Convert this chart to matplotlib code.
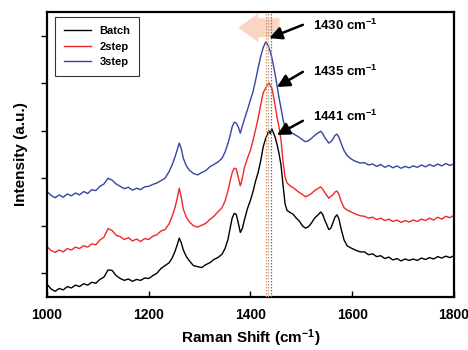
import matplotlib
matplotlib.use("Agg")
import matplotlib.pyplot as plt

plt.rcParams["font.family"] = ["Liberation Sans", "DejaVu Sans"]
plt.rcParams["font.weight"] = "bold"
plt.rcParams["mathtext.fontset"] = "custom"
plt.rcParams["mathtext.rm"] = "Liberation Sans:bold"
plt.rcParams["mathtext.bf"] = "Liberation Sans:bold"
plt.rcParams["mathtext.default"] = "bf"

# Raman shift (cm-1)
shift = [1000, 1008, 1016, 1024, 1032, 1040, 1048, 1056, 1064, 1072, 1080, 1088, 1096,
         1104, 1112, 1120, 1128, 1136, 1144, 1152, 1160, 1168, 1176, 1184, 1192, 1200,
         1208, 1216, 1224, 1232, 1240, 1246, 1252, 1256, 1260, 1264, 1268, 1274, 1280,
         1288, 1296, 1304, 1312, 1320, 1328, 1336, 1344, 1350, 1356, 1360, 1364, 1368,
         1372, 1376, 1380, 1384, 1388, 1394, 1400, 1405, 1410, 1415, 1420, 1425, 1430,
         1433, 1436, 1439, 1442, 1445, 1448, 1452, 1456, 1460, 1464, 1468, 1472, 1478,
         1484, 1490, 1496, 1502, 1508, 1514, 1520, 1526, 1532, 1538, 1542, 1546, 1550,
         1554, 1558, 1562, 1566, 1570, 1574, 1578, 1584, 1590, 1596, 1602, 1608, 1616,
         1624, 1632, 1640, 1648, 1656, 1664, 1672, 1680, 1688, 1696, 1704, 1712, 1720,
         1728, 1736, 1744, 1752, 1760, 1768, 1776, 1784, 1792, 1800]

batch = [0.27, 0.17, 0.12, 0.18, 0.15, 0.22, 0.19, 0.25, 0.22, 0.28, 0.25, 0.31, 0.29,
         0.37, 0.42, 0.57, 0.56, 0.45, 0.39, 0.35, 0.38, 0.33, 0.37, 0.35, 0.40, 0.39,
         0.45, 0.50, 0.60, 0.66, 0.72, 0.82, 0.97, 1.10, 1.24, 1.14, 0.99, 0.85, 0.76,
         0.66, 0.64, 0.62, 0.68, 0.72, 0.79, 0.83, 0.90, 1.02, 1.22, 1.45, 1.66, 1.76,
         1.74, 1.56, 1.36, 1.44, 1.62, 1.86, 2.04, 2.22, 2.44, 2.62, 2.86, 3.16, 3.34,
         3.42, 3.50, 3.44, 3.54, 3.46, 3.38, 3.22, 3.03, 2.78, 2.36, 1.96, 1.82, 1.78,
         1.74, 1.66, 1.60, 1.50, 1.45, 1.48, 1.56, 1.66, 1.72, 1.79, 1.74, 1.62, 1.52,
         1.42, 1.45, 1.56, 1.68, 1.73, 1.64, 1.44, 1.20, 1.08, 1.04, 1.01, 0.98, 0.95,
         0.95, 0.89, 0.91, 0.85, 0.87, 0.81, 0.84, 0.78, 0.81, 0.76, 0.80, 0.77, 0.80,
         0.77, 0.82, 0.79, 0.83, 0.80, 0.85, 0.82, 0.86, 0.83, 0.87]

step2 = [1.06, 0.98, 0.94, 0.99, 0.95, 1.02, 0.99, 1.05, 1.02, 1.08, 1.05, 1.12, 1.10,
         1.20, 1.26, 1.44, 1.40, 1.30, 1.27, 1.21, 1.25, 1.18, 1.22, 1.17, 1.23, 1.21,
         1.28, 1.31, 1.39, 1.42, 1.54, 1.70, 1.90, 2.08, 2.29, 2.10, 1.85, 1.68, 1.58,
         1.50, 1.47, 1.51, 1.55, 1.63, 1.70, 1.79, 1.88, 2.02, 2.24, 2.44, 2.62, 2.71,
         2.70, 2.52, 2.34, 2.50, 2.72, 2.92, 3.09, 3.30, 3.52, 3.76, 4.04, 4.30, 4.40,
         4.46, 4.51, 4.45, 4.40, 4.24, 4.06, 3.80, 3.58, 3.31, 2.86, 2.52, 2.40, 2.34,
         2.30, 2.25, 2.20, 2.16, 2.11, 2.14, 2.18, 2.24, 2.28, 2.32, 2.27, 2.20, 2.14,
         2.08, 2.12, 2.15, 2.21, 2.23, 2.16, 2.02, 1.88, 1.83, 1.80, 1.77, 1.74, 1.71,
         1.70, 1.66, 1.68, 1.63, 1.66, 1.61, 1.64, 1.59, 1.62, 1.57, 1.61, 1.58, 1.62,
         1.59, 1.64, 1.61, 1.66, 1.62, 1.68, 1.64, 1.70, 1.67, 1.72]

step3 = [2.22, 2.14, 2.09, 2.15, 2.10, 2.17, 2.13, 2.19, 2.15, 2.22, 2.18, 2.26, 2.24,
         2.33, 2.38, 2.50, 2.46, 2.38, 2.33, 2.28, 2.31, 2.25, 2.29, 2.26, 2.32, 2.33,
         2.37, 2.40, 2.45, 2.50, 2.64, 2.78, 2.96, 3.10, 3.24, 3.12, 2.92, 2.76, 2.67,
         2.60, 2.57, 2.62, 2.66, 2.74, 2.79, 2.84, 2.92, 3.05, 3.24, 3.40, 3.58, 3.68,
         3.66, 3.58, 3.45, 3.60, 3.74, 3.94, 4.15, 4.32, 4.56, 4.82, 5.06, 5.25, 5.37,
         5.33, 5.26, 5.16, 5.04, 4.88, 4.72, 4.46, 4.20, 3.98, 3.74, 3.56, 3.50, 3.46,
         3.44, 3.40, 3.36, 3.31, 3.27, 3.29, 3.34, 3.40, 3.45, 3.49, 3.44, 3.36, 3.30,
         3.24, 3.27, 3.32, 3.40, 3.43, 3.36, 3.24, 3.08, 2.98, 2.92, 2.88, 2.85, 2.82,
         2.83, 2.78, 2.80, 2.75, 2.79, 2.73, 2.77, 2.72, 2.76, 2.71, 2.75, 2.72, 2.76,
         2.73, 2.78, 2.74, 2.79, 2.75, 2.80, 2.76, 2.81, 2.77, 2.80]

series_names = ["Batch", "2step", "3step"]
series_colors = ["#000000", "#f02828", "#3444a4"]

peak_pos = [1430, 1435, 1441]
peak_labels = ["1430 cm$^{-1}$", "1435 cm$^{-1}$", "1441 cm$^{-1}$"]
peak_colors = ["#f0904a", "#a8a8a8", "#9a6a48"]
# (tete de fleche x, y), (queue x, y), position du texte (y)
arrow_head = [(1437, 5.45), (1452, 4.42), (1452, 3.41)]
arrow_tail = [(1503, 5.73), (1503, 4.74), (1503, 3.71)]
label_y = [5.71, 4.76, 3.81]

fig = plt.figure(figsize=(4.68, 3.5), dpi=100)
ax = fig.add_axes([0.1004, 0.1514, 0.8696, 0.8143])

# grosse fleche pale (decalage vers les bas nombres d'onde)
ax.annotate("", xy=(1376, 5.67), xytext=(1457, 5.67),
            arrowprops=dict(arrowstyle="simple,head_length=1.45,head_width=2.1,tail_width=1.37",
                            color="#fad6c2", lw=0, mutation_scale=10,
                            shrinkA=0, shrinkB=0), zorder=1)

for ys, name, c in zip([batch, step2, step3], series_names, series_colors):
    ax.plot(shift, ys, color=c, lw=1.0, label=name, zorder=2)

for p, c in zip(peak_pos, peak_colors):
    ax.axvline(p, color=c, lw=0.9, ls=(0, (1.2, 1.2)), zorder=3)

for h, t, ly, txt in zip(arrow_head, arrow_tail, label_y, peak_labels):
    ax.annotate("", xy=h, xytext=t,
                arrowprops=dict(arrowstyle="-|>,head_length=0.75,head_width=0.38",
                                color="k", lw=1.8, shrinkA=0, shrinkB=0), zorder=4)
    ax.text(1522, ly, txt, fontsize=9.5, fontweight="bold", va="center", ha="left")

ax.set_xlim(1000, 1800)
ax.set_ylim(0, 6)
ax.set_xticks([1000, 1200, 1400, 1600, 1800])
ax.set_yticks([0.5, 1.5, 2.5, 3.5, 4.5, 5.5])
ax.set_yticklabels([])
ax.tick_params(axis="x", direction="in", length=4, width=1, labelsize=10, pad=8)
ax.tick_params(axis="y", direction="out", length=4, width=1)
for lab in ax.get_xticklabels():
    lab.set_fontweight("bold")
for s in ax.spines.values():
    s.set_linewidth(1.6)

ax.set_xlabel("Raman Shift (cm$^{-1}$)", fontsize=11, fontweight="bold", labelpad=4)
ax.set_ylabel("Intensity (a.u.)", fontsize=11, fontweight="bold", labelpad=6)

leg = ax.legend(loc="upper left", bbox_to_anchor=(0.02, 0.982), borderaxespad=0,
                fancybox=False, edgecolor="#333333", framealpha=1, fontsize=8,
                handlelength=2.4, borderpad=0.8, labelspacing=0.5, handletextpad=0.8)
leg.get_frame().set_linewidth(0.8)
for t in leg.get_texts():
    t.set_fontweight("bold")

fig.savefig("out.png", dpi=100)
